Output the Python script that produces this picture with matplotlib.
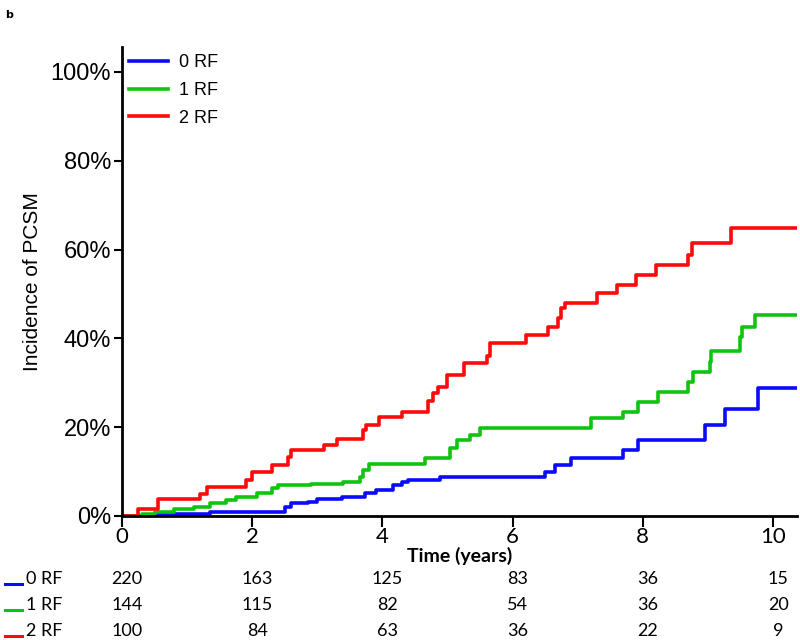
import matplotlib
matplotlib.use("Agg")
import matplotlib.pyplot as plt
from matplotlib.lines import Line2D

# step curves (years, % incidence)
red_t = [0, 0.25, 0.55, 1.2, 1.3, 1.9, 2.0, 2.3, 2.55, 2.6, 3.1, 3.3, 3.7, 3.75, 3.95,
         4.3, 4.7, 4.78, 4.85, 5.0, 5.25, 5.6, 5.65, 6.2, 6.55, 6.7, 6.75, 6.8, 7.3,
         7.6, 7.9, 8.2, 8.7, 8.75, 9.35, 10.37]
red_v = [0, 1.6, 3.8, 5.0, 6.5, 8.0, 10.0, 11.5, 13.3, 14.9, 16.0, 17.3, 19.4, 20.5, 22.3,
         23.4, 26.0, 27.7, 29.0, 31.8, 34.5, 36.0, 39.0, 40.8, 42.6, 44.6, 46.8, 48.0, 50.2,
         52.0, 54.3, 56.5, 58.8, 61.5, 64.9, 64.9]

green_t = [0, 0.3, 0.5, 0.8, 1.1, 1.35, 1.6, 1.75, 2.07, 2.3, 2.4, 2.9, 3.4, 3.65, 3.7,
           3.8, 4.65, 5.04, 5.15, 5.35, 5.5, 7.2, 7.7, 7.93, 8.23, 8.7, 8.77, 9.03, 9.05,
           9.5, 9.53, 9.72, 10.37]
green_v = [0, 0.5, 1.0, 1.5, 2.0, 3.0, 3.6, 4.3, 5.2, 6.3, 7.0, 7.3, 7.6, 8.8, 10.4,
           11.7, 13.0, 15.3, 17.1, 18.2, 19.8, 22.0, 23.4, 25.7, 28.0, 30.2, 32.4, 34.7, 37.2,
           40.3, 42.6, 45.2, 45.2]

blue_t = [0, 0.5, 1.35, 2.5, 2.6, 2.85, 3.0, 3.38, 3.73, 3.9, 4.17, 4.3, 4.4, 4.88,
          6.5, 6.65, 6.9, 7.7, 7.93, 8.95, 9.26, 9.77, 10.37]
blue_v = [0, 0.5, 1.0, 2.0, 2.9, 3.2, 3.8, 4.3, 5.2, 5.9, 7.0, 7.7, 8.1, 8.8,
          9.9, 11.5, 13.0, 14.9, 17.0, 20.5, 24.1, 28.8, 28.8]

groups = ["0 RF", "1 RF", "2 RF"]
colors = ["#0a0aff", "#0fc40f", "#ff0a0a"]
risk_times = [0, 2, 4, 6, 8, 10]
at_risk = [
    [220, 163, 125, 83, 36, 15],
    [144, 115, 82, 54, 36, 20],
    [100, 84, 63, 36, 22, 9],
]

fig = plt.figure(figsize=(8, 6.4), dpi=100)
ax = fig.add_axes([0.1525, 0.19375, 0.84375, 0.7328])

curves = [(blue_t, blue_v), (green_t, green_v), (red_t, red_v)]
for (t, v), c, g in zip(curves, colors, groups):
    ax.plot(t, v, drawstyle="steps-post", color=c, lw=2.6, label=g)

ax.set_xlim(0, 10.37)
ax.set_ylim(0, 105.6)
ax.set_xticks(risk_times)
ax.set_yticks(range(0, 101, 20))
ax.set_yticklabels([f"{v}%" for v in range(0, 101, 20)], family="Liberation Sans", fontsize=17)
ax.set_xticklabels([str(v) for v in risk_times], family="Lato", fontsize=16)
ax.tick_params(axis="y", length=6, width=1.5, pad=2)
ax.tick_params(axis="x", length=8, width=1.5, pad=0)
for s in ["top", "right"]:
    ax.spines[s].set_visible(False)
for s in ["left", "bottom"]:
    ax.spines[s].set_linewidth(2)

ax.set_ylabel("Incidence of PCSM", family="Liberation Sans", fontsize=15, labelpad=6)
ax.set_xlabel("Time (years)", family="Lato", fontsize=14, fontweight="bold", labelpad=0)

ax.legend(loc="upper left", bbox_to_anchor=(0.01, 0.985), frameon=False, borderpad=0,
          borderaxespad=0, handlelength=2.2, handletextpad=0.6, labelspacing=0.6,
          prop={"family": "Liberation Sans", "size": 13})

# number at risk table
xt = ax.get_xaxis_transform()
row_y = [-0.134, -0.19, -0.245]
for i in range(3):
    for t, n in zip(risk_times, at_risk[i]):
        ax.text(t + 0.08, row_y[i], str(n), transform=xt, ha="center", va="center",
                family="Lato", fontsize=13, clip_on=False)
    fy = 0.19375 + row_y[i] * 0.7328
    fig.add_artist(Line2D([0.006, 0.028], [fy - 0.008, fy - 0.008], color=colors[i], lw=2.2))
    fig.text(0.032, fy, groups[i], ha="left", va="center", family="Lato", fontsize=13)

fig.text(0.006, 0.985, "b", ha="left", va="top", fontsize=8, fontweight="bold")

fig.savefig("out.png", dpi=100)
